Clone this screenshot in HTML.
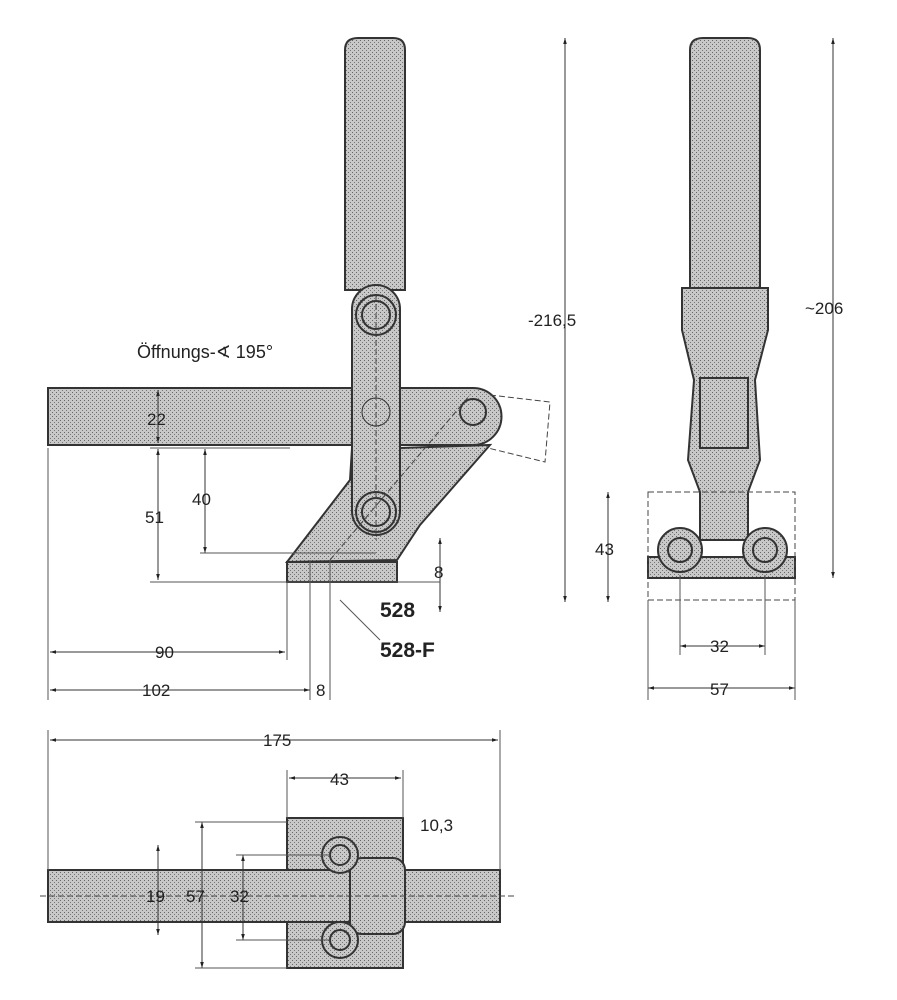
<!DOCTYPE html>
<html><head><style>
body{margin:0;background:#fff;}
svg{display:block;}
text{font-family:"Liberation Sans",sans-serif;fill:#222;}
</style></head><body>
<svg width="897" height="1000" viewBox="0 0 897 1000" xmlns="http://www.w3.org/2000/svg">
<defs>
<pattern id="st" width="4" height="4" patternUnits="userSpaceOnUse">
<rect width="4" height="4" fill="#c8c8c8"/><rect x="0" y="0" width="1" height="1" fill="#666"/><rect x="2" y="2" width="1" height="1" fill="#777"/>
</pattern>
<marker id="a" viewBox="0 0 10 10" refX="10" refY="5" markerWidth="6" markerHeight="6" orient="auto-start-reverse"><path d="M0,2 L10,5 L0,8z" fill="#222"/></marker>
</defs>
<g stroke="#333" stroke-width="2" fill="url(#st)">
<path d="M287,562 L350,480 L352,448 L400,448 L490,445 L420,525 L397,560 Z"/>
<rect x="287" y="562" width="110" height="20"/>
<path d="M48,388 L473,388 A25,25 0 0 1 473,445 L48,445 Z"/>
<path d="M345,50 Q345,38 358,38 L393,38 Q405,38 405,50 L405,290 L345,290 Z"/>
<rect x="352" y="285" width="48" height="250" rx="24"/>
<circle cx="376" cy="315" r="20"/><circle cx="376" cy="315" r="14"/>
<circle cx="376" cy="412" r="14" stroke-width="1"/>
<circle cx="376" cy="512" r="20"/><circle cx="376" cy="512" r="14"/>
<circle cx="473" cy="412" r="13"/>
<path d="M690,50 Q690,38 703,38 L748,38 Q760,38 760,50 L760,290 L690,290 Z"/>
<path d="M682,288 L768,288 L768,330 L755,380 L760,460 L748,492 L748,540 L700,540 L700,492 L688,460 L694,380 L682,330 Z"/>
<rect x="700" y="378" width="48" height="70"/>
<rect x="648" y="557" width="147" height="21"/>
<circle cx="680" cy="550" r="22"/><circle cx="680" cy="550" r="12"/>
<circle cx="765" cy="550" r="22"/><circle cx="765" cy="550" r="12"/>
<rect x="287" y="818" width="116" height="150"/>
<rect x="48" y="870" width="452" height="52"/>
<rect x="350" y="858" width="55" height="76" rx="12"/>
<circle cx="340" cy="855" r="18"/><circle cx="340" cy="855" r="10"/>
<circle cx="340" cy="940" r="18"/><circle cx="340" cy="940" r="10"/>
</g>
<g stroke="#444" stroke-width="1" fill="none" stroke-dasharray="6,3">
<path d="M490,395 L550,402 L545,462 L488,448"/>
<rect x="648" y="492" width="147" height="108"/>
<line x1="376" y1="295" x2="376" y2="540"/><line x1="330" y1="560" x2="470" y2="395"/>
<line x1="40" y1="896" x2="515" y2="896"/>
</g>
<g stroke="#333" stroke-width="1" fill="none" marker-start="url(#a)" marker-end="url(#a)">
<line x1="158" y1="390" x2="158" y2="443"/>
<line x1="158" y1="449" x2="158" y2="580"/>
<line x1="205" y1="449" x2="205" y2="553"/>
<line x1="440" y1="538" x2="440" y2="612"/>
<line x1="50" y1="652" x2="285" y2="652"/>
<line x1="50" y1="690" x2="310" y2="690"/>
<line x1="565" y1="38" x2="565" y2="602"/>
<line x1="833" y1="38" x2="833" y2="578"/>
<line x1="608" y1="492" x2="608" y2="602"/>
<line x1="680" y1="646" x2="765" y2="646"/>
<line x1="648" y1="688" x2="795" y2="688"/>
<line x1="50" y1="740" x2="498" y2="740"/>
<line x1="289" y1="778" x2="401" y2="778"/>
<line x1="158" y1="845" x2="158" y2="935"/>
<line x1="202" y1="822" x2="202" y2="968"/>
<line x1="243" y1="855" x2="243" y2="940"/>
</g>
<g stroke="#555" stroke-width="1">
<line x1="48" y1="448" x2="48" y2="700"/><line x1="287" y1="582" x2="287" y2="660"/>
<line x1="310" y1="560" x2="310" y2="700"/><line x1="330" y1="560" x2="330" y2="700"/>
<line x1="150" y1="448" x2="290" y2="448"/><line x1="150" y1="582" x2="440" y2="582"/>
<line x1="200" y1="553" x2="376" y2="553"/>
<line x1="648" y1="600" x2="648" y2="700"/><line x1="795" y1="600" x2="795" y2="700"/>
<line x1="680" y1="575" x2="680" y2="655"/><line x1="765" y1="575" x2="765" y2="655"/>
<line x1="48" y1="730" x2="48" y2="870"/><line x1="500" y1="730" x2="500" y2="870"/>
<line x1="287" y1="770" x2="287" y2="818"/><line x1="403" y1="770" x2="403" y2="818"/>
<line x1="195" y1="822" x2="287" y2="822"/><line x1="195" y1="968" x2="287" y2="968"/>
<line x1="236" y1="855" x2="330" y2="855"/><line x1="236" y1="940" x2="330" y2="940"/>
<line x1="340" y1="600" x2="380" y2="640"/>
</g>
<g font-size="17">
<text x="137" y="358" font-size="18">Öffnungs-∢ 195°</text>
<text x="147" y="425">22</text>
<text x="145" y="523">51</text>
<text x="192" y="505">40</text>
<text x="434" y="578">8</text>
<text x="380" y="617" font-size="21" font-weight="bold">528</text>
<text x="380" y="657" font-size="21" font-weight="bold">528-F</text>
<text x="155" y="658">90</text>
<text x="142" y="696">102</text>
<text x="316" y="696">8</text>
<text x="528" y="326">-216,5</text>
<text x="805" y="314">~206</text>
<text x="595" y="555">43</text>
<text x="710" y="652">32</text>
<text x="710" y="695">57</text>
<text x="263" y="746">175</text>
<text x="330" y="785">43</text>
<text x="420" y="831">10,3</text>
<text x="146" y="902">19</text>
<text x="186" y="902">57</text>
<text x="230" y="902">32</text>
</g>
</svg>
</body></html>
